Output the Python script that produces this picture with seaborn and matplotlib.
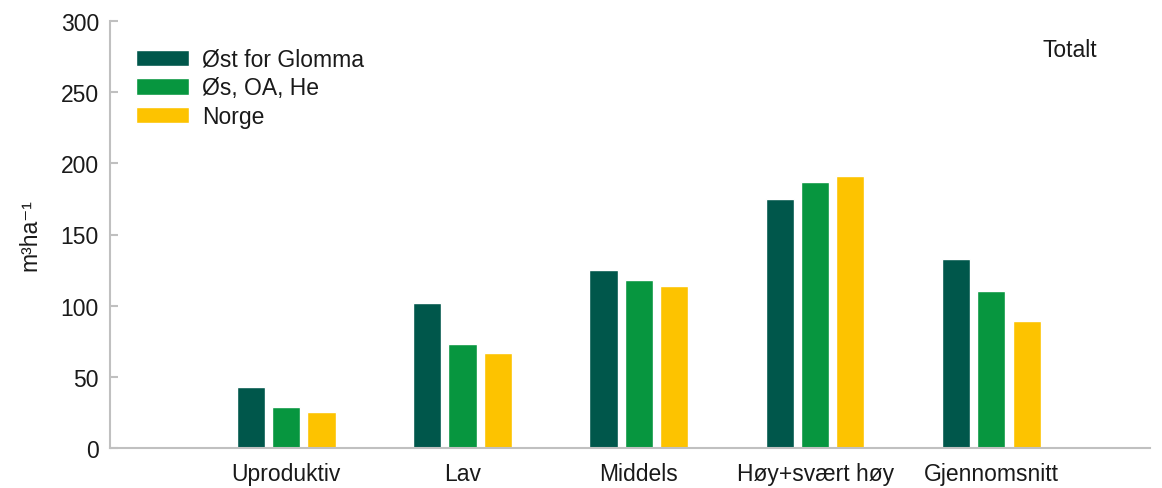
import matplotlib
matplotlib.use('Agg')
import matplotlib.pyplot as plt
import seaborn as sns
import pandas as pd

categories = ['Uproduktiv', 'Lav', 'Middels', 'Høy+svært høy', 'Gjennomsnitt']
regions = ['Øst for Glomma', 'Øs, OA, He', 'Norge']
ost_for_glomma = [43, 102, 125, 175, 133]
os_oa_he = [29, 73, 118, 187, 110]
norge = [25, 67, 114, 191, 89]

colors = ['#00574B', '#07963F', '#FDC300']

df = pd.DataFrame({
    'kategori': categories * 3,
    'region': [r for r in regions for _ in categories],
    'volum': ost_for_glomma + os_oa_he + norge,
})

sns.set_style('white')
plt.rcParams['font.family'] = ['Liberation Sans', 'DejaVu Sans']
plt.rcParams['text.color'] = '#1a1a1a'

fs = 16.5
fig = plt.figure(figsize=(11.62, 4.89), dpi=100)
ax = fig.add_axes([110 / 1162, 1 - 449 / 489, 1040 / 1162, 427 / 489])

sns.barplot(data=df, x='kategori', y='volum', hue='region', order=categories,
            hue_order=regions, palette=colors, width=0.6, gap=0.2,
            saturation=1, ax=ax)

ax.set_xlim(-1.0, 4.9)
ax.set_ylim(0, 300)
ax.set_yticks(range(0, 301, 50))
ax.set_xlabel('')
ax.set_ylabel('m³ha⁻¹', fontsize=fs, labelpad=14, color='#1a1a1a')

for side in ['top', 'right']:
    ax.spines[side].set_visible(False)
for side in ['left', 'bottom']:
    ax.spines[side].set_color('#C0C0C0')
    ax.spines[side].set_linewidth(1.5)

ax.tick_params(axis='y', direction='in', length=6, width=1.5, color='#C0C0C0',
               labelsize=fs, pad=8, left=True, labelcolor='#1a1a1a')
ax.tick_params(axis='x', length=0, labelsize=fs, pad=10, labelcolor='#1a1a1a')

ax.legend(loc='upper left', bbox_to_anchor=(0.025, 0.937), frameon=False,
          fontsize=fs, handlelength=2.3, handleheight=0.72, handletextpad=0.6,
          labelspacing=0.24, borderpad=0, borderaxespad=0)

ax.text(0.949, 0.933, 'Totalt', transform=ax.transAxes, ha='right', va='center',
        fontsize=fs)

fig.savefig('out.png', dpi=100)
